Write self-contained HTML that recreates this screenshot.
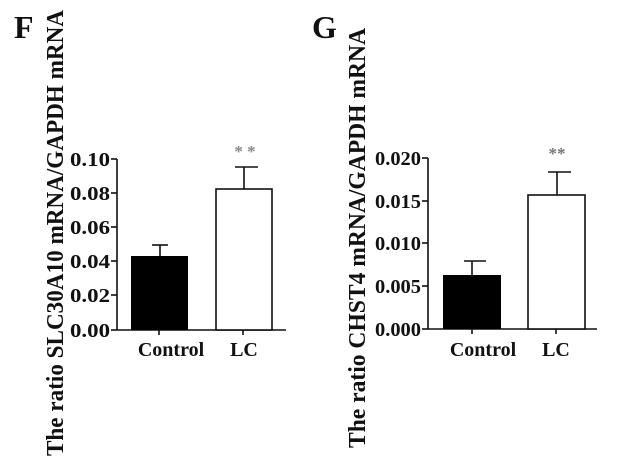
<!DOCTYPE html>
<html><head><style>
html,body{margin:0;padding:0;background:#fff;}
svg text{font-family:"Liberation Serif",serif;font-weight:bold;fill:#111;}
</style></head><body>
<svg width="630" height="468" viewBox="0 0 630 468" xmlns="http://www.w3.org/2000/svg">
<rect width="630" height="468" fill="#fff"/>
<!-- Panel F -->
<text x="14" y="38" font-size="32">F</text>
<text transform="translate(63,456) rotate(-90)" font-size="24" textLength="446" lengthAdjust="spacingAndGlyphs">The ratio SLC30A10 mRNA/GAPDH mRNA</text>
<g stroke="#111" stroke-width="1.6" fill="none">
<line x1="117" y1="159" x2="117" y2="330"/>
<line x1="117" y1="330" x2="286" y2="330"/>
<line x1="111" y1="159" x2="117" y2="159"/><line x1="111" y1="193" x2="117" y2="193"/>
<line x1="111" y1="227" x2="117" y2="227"/><line x1="111" y1="261" x2="117" y2="261"/>
<line x1="111" y1="295" x2="117" y2="295"/><line x1="111" y1="330" x2="117" y2="330"/>
<line x1="159" y1="330" x2="159" y2="335"/><line x1="243" y1="330" x2="243" y2="335"/>
<line x1="160" y1="256" x2="160" y2="245"/><line x1="152" y1="245" x2="168" y2="245"/>
<line x1="244" y1="189" x2="244" y2="167"/><line x1="235" y1="167" x2="258" y2="167"/>
<rect x="216" y="189" width="56" height="141" fill="#fff"/>
</g>
<rect x="131" y="256" width="57" height="74" fill="#000"/>
<g font-size="20" text-anchor="end">
<text x="110" y="166" textLength="40" lengthAdjust="spacingAndGlyphs">0.10</text><text x="110" y="200" textLength="40" lengthAdjust="spacingAndGlyphs">0.08</text><text x="110" y="234" textLength="40" lengthAdjust="spacingAndGlyphs">0.06</text>
<text x="110" y="268" textLength="40" lengthAdjust="spacingAndGlyphs">0.04</text><text x="110" y="302" textLength="40" lengthAdjust="spacingAndGlyphs">0.02</text><text x="110" y="337" textLength="40" lengthAdjust="spacingAndGlyphs">0.00</text>
</g>
<text x="171" y="356" font-size="20" text-anchor="middle">Control</text>
<text x="244" y="356" font-size="20" text-anchor="middle">LC</text>
<text x="245" y="157" font-size="17" text-anchor="middle" style="fill:#888">* *</text>
<!-- Panel G -->
<text x="312" y="38" font-size="32">G</text>
<text transform="translate(365,448) rotate(-90)" font-size="24" textLength="420" lengthAdjust="spacingAndGlyphs">The ratio CHST4 mRNA/GAPDH mRNA</text>
<g stroke="#111" stroke-width="1.6" fill="none">
<line x1="428" y1="158" x2="428" y2="329"/>
<line x1="428" y1="329" x2="597" y2="329"/>
<line x1="422" y1="158" x2="428" y2="158"/><line x1="422" y1="201" x2="428" y2="201"/>
<line x1="422" y1="243" x2="428" y2="243"/><line x1="422" y1="286" x2="428" y2="286"/>
<line x1="422" y1="329" x2="428" y2="329"/>
<line x1="472" y1="329" x2="472" y2="334"/><line x1="556" y1="329" x2="556" y2="334"/>
<line x1="472" y1="275" x2="472" y2="261"/><line x1="464" y1="261" x2="486" y2="261"/>
<line x1="557" y1="195" x2="557" y2="172"/><line x1="548" y1="172" x2="571" y2="172"/>
<rect x="528" y="195" width="57" height="134" fill="#fff"/>
</g>
<rect x="443" y="275" width="58" height="54" fill="#000"/>
<g font-size="20" text-anchor="end">
<text x="421" y="165" textLength="46" lengthAdjust="spacingAndGlyphs">0.020</text><text x="421" y="208" textLength="46" lengthAdjust="spacingAndGlyphs">0.015</text><text x="421" y="250" textLength="46" lengthAdjust="spacingAndGlyphs">0.010</text>
<text x="421" y="293" textLength="46" lengthAdjust="spacingAndGlyphs">0.005</text><text x="421" y="336" textLength="46" lengthAdjust="spacingAndGlyphs">0.000</text>
</g>
<text x="483" y="356" font-size="20" text-anchor="middle">Control</text>
<text x="556" y="356" font-size="20" text-anchor="middle">LC</text>
<text x="557" y="159" font-size="17" text-anchor="middle" style="fill:#777">**</text>
</svg>
</body></html>
